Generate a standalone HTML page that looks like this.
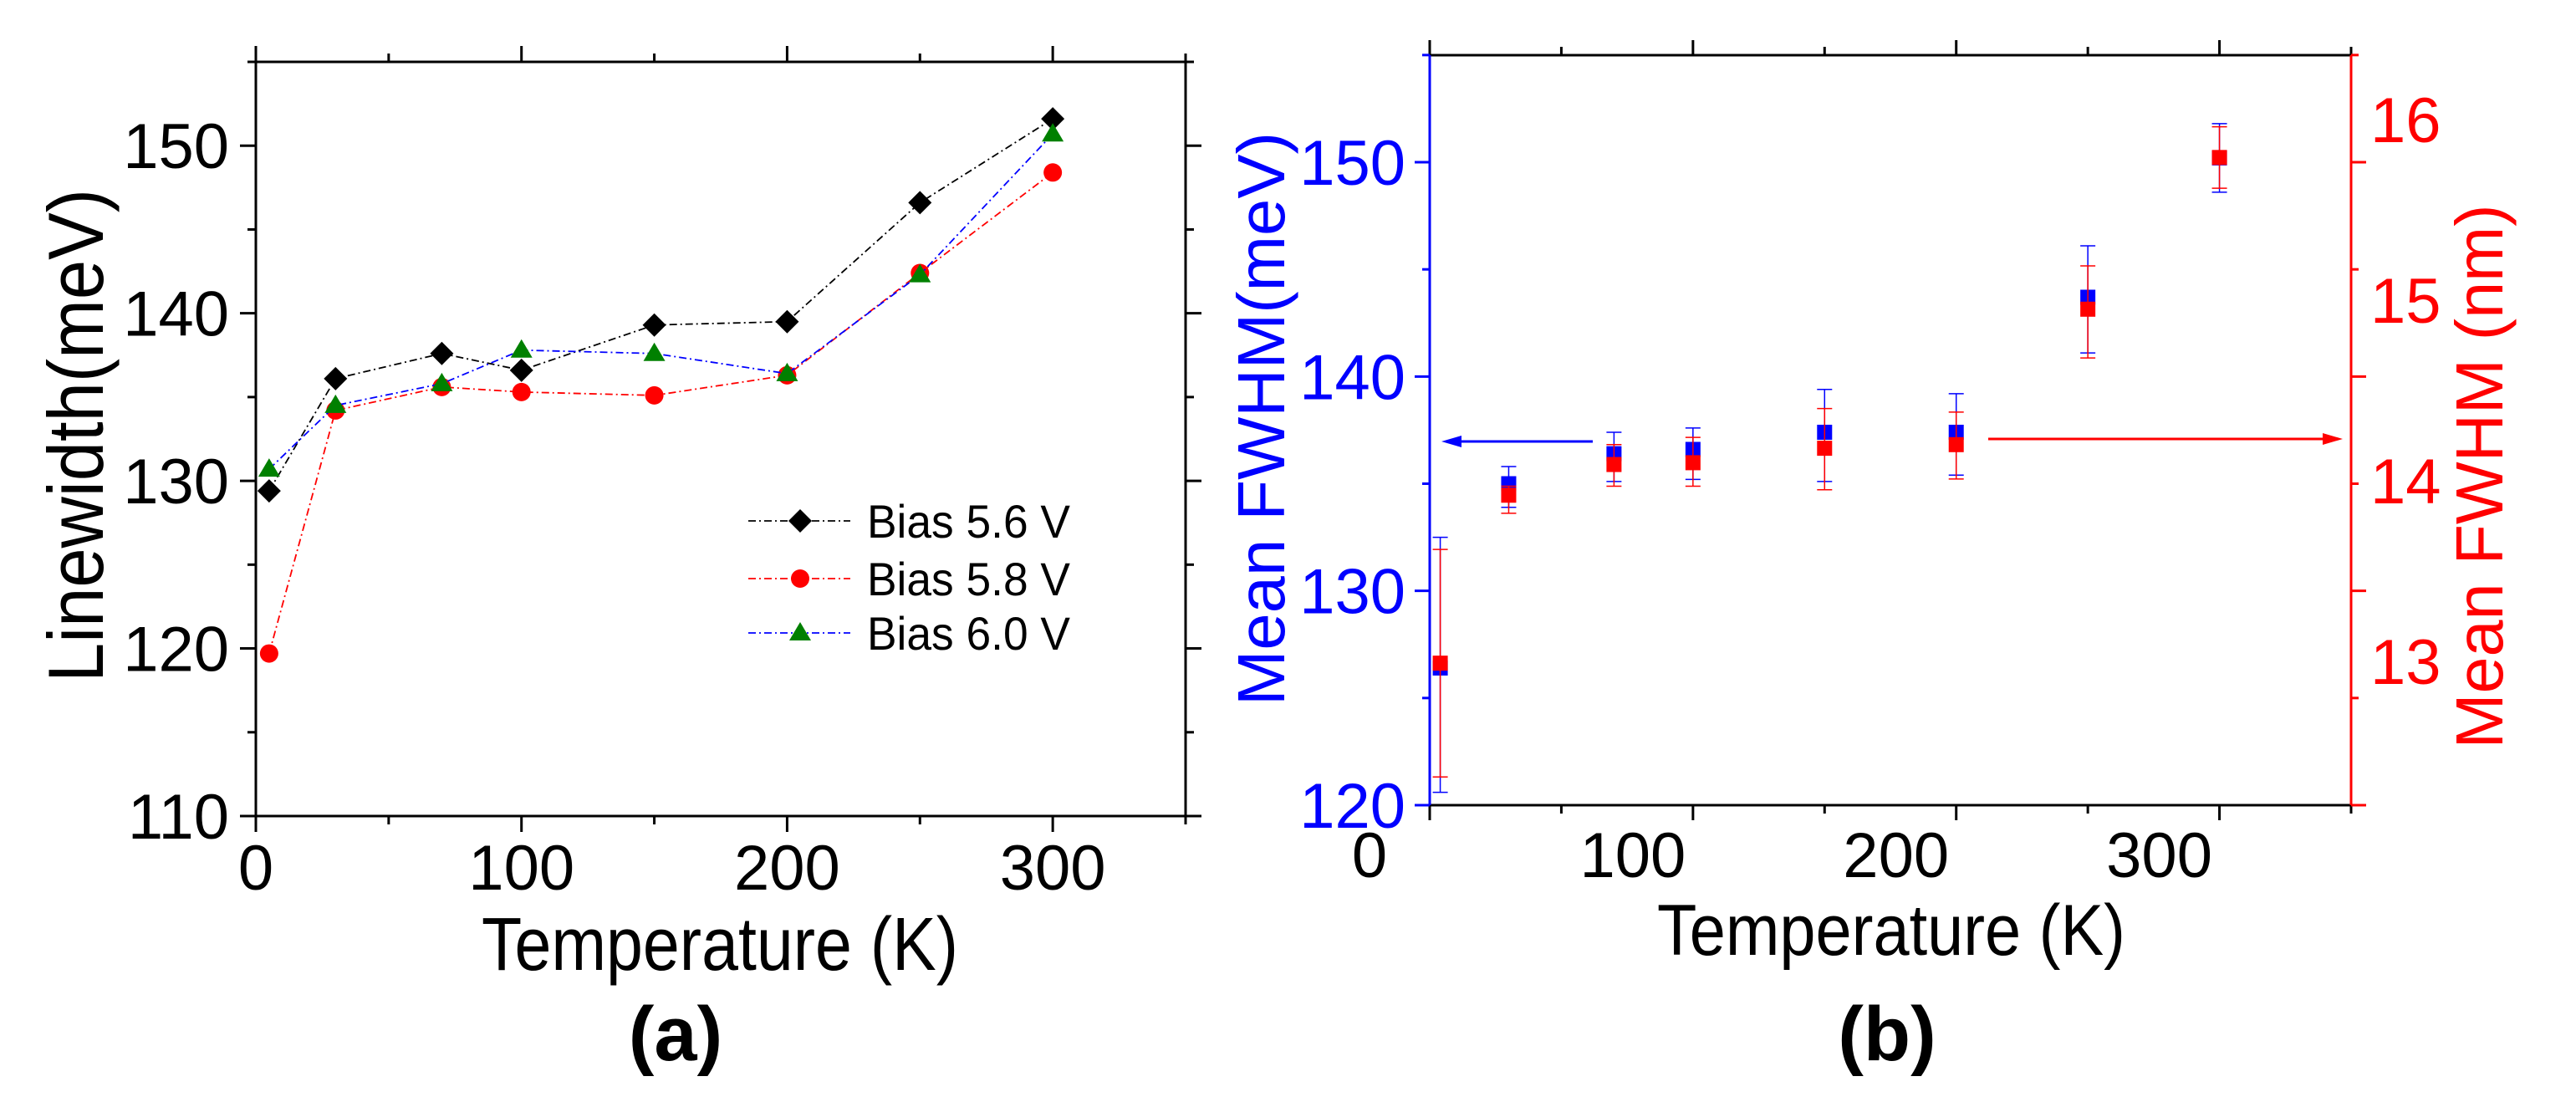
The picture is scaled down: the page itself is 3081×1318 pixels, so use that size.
<!DOCTYPE html>
<html><head><meta charset="utf-8"><style>
html,body{margin:0;padding:0;background:#fff;}
svg{display:block;font-family:"Liberation Sans",Arial,sans-serif;}
</style></head><body>
<svg id="fig" width="3081" height="1318" viewBox="0 0 3081 1318" xmlns="http://www.w3.org/2000/svg">
<rect width="3081" height="1318" fill="#fff"/>
<g id="pa"></g>
<g id="pb"></g>
</svg>
<script>
// ---------- Panel (a) data ----------
const tempsA = [5, 30, 70, 100, 150, 200, 250, 300];
const bias56 = [129.4, 136.1, 137.6, 136.6, 139.3, 139.5, 146.6, 151.6];
const bias58 = [119.7, 134.2, 135.6, 135.3, 135.1, 136.3, 142.4, 148.4];
const bias60 = [130.7, 134.5, 135.8, 137.8, 137.6, 136.4, 142.3, 150.7];
const xTicksA = [0, 100, 200, 300];
const yTicksA = [110, 120, 130, 140, 150];
const legendLabels = ["Bias 5.6 V", "Bias 5.8 V", "Bias 6.0 V"];
// ---------- Panel (b) data ----------
const tempsB = [4, 30, 70, 100, 150, 200, 250, 300];
const meanMeV = [126.4, 135.0, 136.4, 136.6, 137.4, 137.4, 143.7, 150.2];
const meVHi = [132.5, 135.8, 137.4, 137.6, 139.4, 139.2, 146.1, 151.8];
const meVLo = [120.6, 133.9, 135.1, 135.2, 135.1, 135.4, 141.1, 148.6];
const meanNm = [12.99, 13.92, 14.09, 14.10, 14.18, 14.20, 14.95, 15.79];
const nmHi = [13.62, 13.97, 14.20, 14.24, 14.40, 14.38, 15.19, 15.96];
const nmLo = [12.36, 13.82, 13.97, 13.97, 13.95, 14.01, 14.68, 15.62];
const xTicksB = [0, 100, 200, 300];
const yTicksBL = [120, 130, 140, 150];
const yTicksBR = [13, 14, 15, 16];

const NS = "http://www.w3.org/2000/svg";
function mk(parent, tag, attrs, text) {
  const e = document.createElementNS(NS, tag);
  for (const k in attrs) e.setAttribute(k, attrs[k]);
  if (text !== undefined) e.textContent = text;
  parent.appendChild(e);
  return e;
}

// ---------- Panel (a) ----------
const pa = document.getElementById('pa');
const ax = v => 306 + (v - 0) * (1418 - 306) / 350;
const ay = v => 976 - (v - 110) * (976 - 74) / 45;
let fr = mk(pa, 'rect', {x:306, y:74, width:1112, height:902, fill:'none', stroke:'#000', 'stroke-width':3});


for (let t = 0; t <= 350; t += 50) {
  const major = t % 100 === 0;
  const L = major ? 19 : 10;
  mk(pa, 'line', {x1:ax(t), x2:ax(t), y1:976, y2:976 + L, stroke:'#000', 'stroke-width':3});
  mk(pa, 'line', {x1:ax(t), x2:ax(t), y1:74, y2:74 - L, stroke:'#000', 'stroke-width':3});
}
for (let v = 110; v <= 155; v += 5) {
  const major = v % 10 === 0;
  const L = major ? 19 : 10;
  mk(pa, 'line', {x1:306, x2:306 - L, y1:ay(v), y2:ay(v), stroke:'#000', 'stroke-width':3});
  mk(pa, 'line', {x1:1418, x2:1418 + L, y1:ay(v), y2:ay(v), stroke:'#000', 'stroke-width':3});
}
xTicksA.forEach(t => {
  const e = mk(pa, 'text', {x:ax(t), y:1064, 'font-size':76, 'text-anchor':'middle'}, String(t));
  
  
});
yTicksA.forEach(v => {
  const e = mk(pa, 'text', {x:274, y:ay(v) + 27, 'font-size':76, 'text-anchor':'end'}, String(v));
  
  
});
let xt = mk(pa, 'text', {x:861, y:1160, 'font-size':90, 'text-anchor':'middle', textLength:570, lengthAdjust:'spacingAndGlyphs'}, 'Temperature (K)');


let yt = mk(pa, 'text', {x:0, y:0, 'font-size':94, 'text-anchor':'middle', textLength:590, lengthAdjust:'spacingAndGlyphs', transform:'translate(123,521) rotate(-90)'}, 'Linewidth(meV)');


let la = mk(pa, 'text', {x:808, y:1268, 'font-size':92, 'font-weight':'bold', 'text-anchor':'middle'}, '(a)');



function marker(g, kind, x, y) {
  if (kind === 'diamond') return mk(g, 'polygon', {points:`${x},${y-14} ${x+14},${y} ${x},${y+14} ${x-14},${y}`, fill:'#000'});
  if (kind === 'circle') return mk(g, 'circle', {cx:x, cy:y, r:11, fill:'#f00'});
  return mk(g, 'polygon', {points:`${x},${y-13} ${x+13},${y+9} ${x-13},${y+9}`, fill:'#008000'});
}
const seriesA = [
  {vals:bias56, color:'#000', kind:'diamond', name:'series-bias-5-6'},
  {vals:bias58, color:'#f00', kind:'circle', name:'series-bias-5-8'},
  {vals:bias60, color:'#00f', kind:'triangle', name:'series-bias-6-0'}
];
seriesA.forEach((s, si) => {
  const g = mk(pa, 'g', {});
  
  
  const pts = s.vals.map((v, i) => `${ax(tempsA[i])},${ay(v)}`).join(' ');
  mk(g, 'polyline', {points:pts, fill:'none', stroke:s.color, 'stroke-width':1.8, 'stroke-dasharray':'9 4 2 4'});
  s.vals.forEach((v, i) => {
    const m = marker(g, s.kind, ax(tempsA[i]), ay(v));
    
    
  });
});
const legY = [623, 692, 757];
const lg = mk(pa, 'g', {});


seriesA.forEach((s, i) => {
  const ent = mk(lg, 'g', {});
  
  
  mk(ent, 'line', {x1:895, x2:1017, y1:legY[i], y2:legY[i], stroke:s.color, 'stroke-width':1.8, 'stroke-dasharray':'9 4 2 4'});
  marker(ent, s.kind, 957, legY[i]);
  mk(ent, 'text', {x:1037, y:legY[i] + 20, 'font-size':56, textLength:243, lengthAdjust:'spacingAndGlyphs'}, legendLabels[i]);
});

// ---------- Panel (b) ----------
const pb = document.getElementById('pb');
const bx = v => 1710 + v * (2812 - 1710) / 350;
const byL = v => 963 - (v - 120) * (963 - 194) / 30;
const byR = v => 791 - (v - 13) * 216;
mk(pb, 'line', {x1:1710, x2:2812, y1:66, y2:66, stroke:'#000', 'stroke-width':3});
mk(pb, 'line', {x1:1710, x2:2812, y1:963, y2:963, stroke:'#000', 'stroke-width':3});
let lax = mk(pb, 'line', {x1:1710, x2:1710, y1:66, y2:963, stroke:'#00f', 'stroke-width':3});


let rax = mk(pb, 'line', {x1:2812, x2:2812, y1:66, y2:963, stroke:'#f00', 'stroke-width':3});


for (let t = 0; t <= 350; t += 50) {
  const major = t % 100 === 0;
  const L = major ? 18 : 10;
  mk(pb, 'line', {x1:bx(t), x2:bx(t), y1:963, y2:963 + L, stroke:'#000', 'stroke-width':3});
  mk(pb, 'line', {x1:bx(t), x2:bx(t), y1:66, y2:66 - L, stroke:'#000', 'stroke-width':3});
}
for (let v = 120; v <= 155; v += 5) {
  const major = v % 10 === 0;
  const L = major ? 18 : 9;
  mk(pb, 'line', {x1:1710, x2:1710 - L, y1:byL(v), y2:byL(v), stroke:'#00f', 'stroke-width':3});
  mk(pb, 'line', {x1:2812, x2:2812 + L, y1:byL(v), y2:byL(v), stroke:'#f00', 'stroke-width':3});
}
xTicksB.forEach(t => {
  const e = mk(pb, 'text', {x:bx(t) - 72, y:1049, 'font-size':76, 'text-anchor':'middle'}, String(t));
  
  
});
yTicksBL.forEach(v => {
  const e = mk(pb, 'text', {x:1681, y:byL(v) + 27, 'font-size':76, 'text-anchor':'end', fill:'#00f'}, String(v));
  
  
});
yTicksBR.forEach(v => {
  const e = mk(pb, 'text', {x:2835, y:byR(v) + 27, 'font-size':76, fill:'#f00'}, String(v));
  
  
});
let xtb = mk(pb, 'text', {x:2262, y:1142, 'font-size':86, 'text-anchor':'middle', textLength:560, lengthAdjust:'spacingAndGlyphs'}, 'Temperature (K)');


let ytl = mk(pb, 'text', {x:0, y:0, 'font-size':80, 'text-anchor':'middle', fill:'#00f', textLength:686, lengthAdjust:'spacingAndGlyphs', transform:'translate(1536,501) rotate(-90)'}, 'Mean FWHM(meV)');


let ytr = mk(pb, 'text', {x:0, y:0, 'font-size':80, 'text-anchor':'middle', fill:'#f00', textLength:651, lengthAdjust:'spacingAndGlyphs', transform:'translate(2993,570) rotate(-90)'}, 'Mean FWHM (nm)');


let lb = mk(pb, 'text', {x:2257, y:1268, 'font-size':92, 'font-weight':'bold', 'text-anchor':'middle'}, '(b)');



function errbar(g, x, yHi, yLo, col) {
  mk(g, 'line', {x1:x, x2:x, y1:yHi, y2:yLo, stroke:col, 'stroke-width':1.5});
  mk(g, 'line', {x1:x - 9, x2:x + 9, y1:yHi, y2:yHi, stroke:col, 'stroke-width':1.5});
  mk(g, 'line', {x1:x - 9, x2:x + 9, y1:yLo, y2:yLo, stroke:col, 'stroke-width':1.5});
}
const gBlue = mk(pb, 'g', {});


tempsB.forEach((t, i) => {
  errbar(gBlue, bx(t), byL(meVHi[i]), byL(meVLo[i]), '#00f');
  const r = mk(gBlue, 'rect', {x:bx(t) - 9, y:byL(meanMeV[i]) - 9, width:18, height:18, fill:'#00f'});
  
  
});
const gRed = mk(pb, 'g', {});


tempsB.forEach((t, i) => {
  errbar(gRed, bx(t), byR(nmHi[i]), byR(nmLo[i]), '#f00');
  const r = mk(gRed, 'rect', {x:bx(t) - 9, y:byR(meanNm[i]) - 9, width:18, height:18, fill:'#f00'});
  
  
});
const ab = mk(pb, 'g', {});


mk(ab, 'line', {x1:1905, x2:1740, y1:528, y2:528, stroke:'#00f', 'stroke-width':3});
mk(ab, 'polygon', {points:'1724,528 1748,521 1748,535', fill:'#00f'});
const ar = mk(pb, 'g', {});


mk(ar, 'line', {x1:2378, x2:2780, y1:525, y2:525, stroke:'#f00', 'stroke-width':3});
mk(ar, 'polygon', {points:'2802,525 2778,518 2778,532', fill:'#f00'});
</script>
</body></html>
